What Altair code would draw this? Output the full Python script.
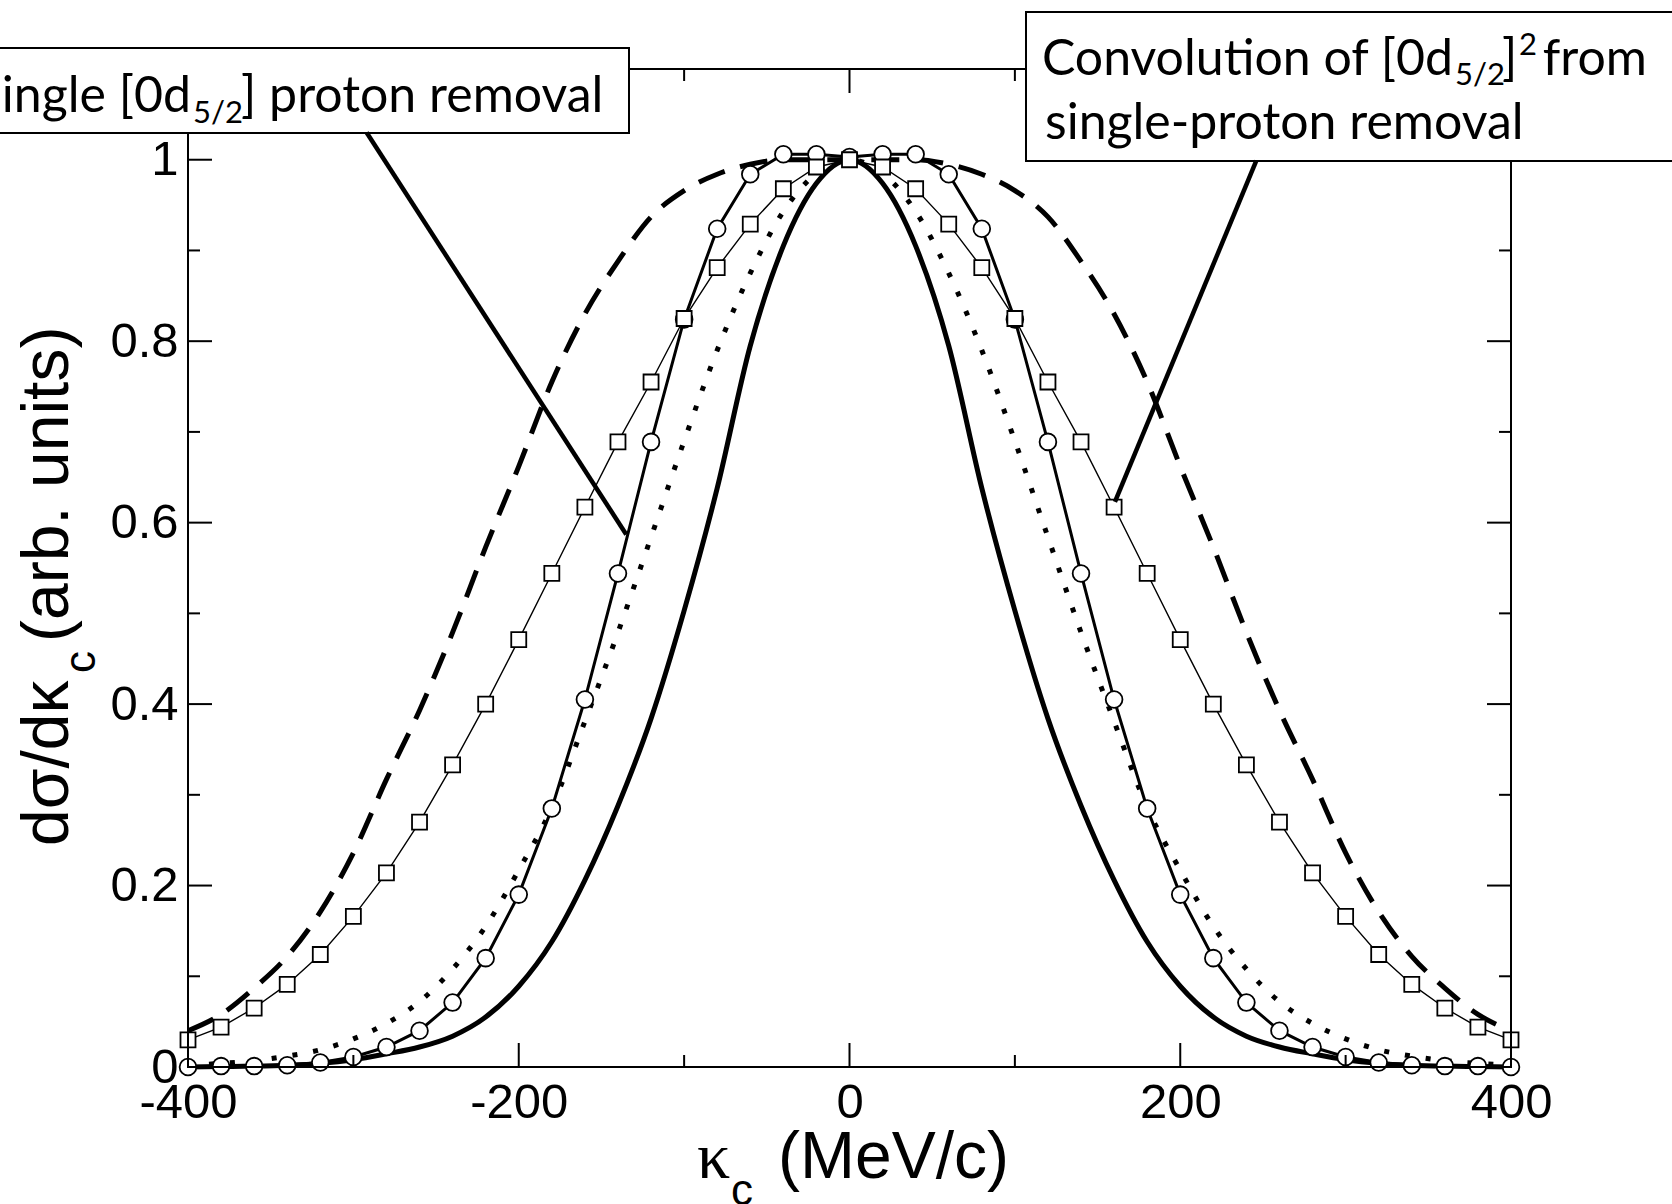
import altair as alt
import pandas as pd

# ---------------- data ----------------
kappa = list(range(-400, 401, 20))

dashed = [0.040, 0.058, 0.087, 0.122, 0.171, 0.236, 0.317, 0.393, 0.479, 0.573, 0.662,
          0.755, 0.830, 0.888, 0.937, 0.966, 0.984, 0.995, 1.000, 1.000, 1.000,
          1.000, 1.000, 0.995, 0.984, 0.966, 0.937, 0.888, 0.830, 0.755, 0.662,
          0.573, 0.479, 0.393, 0.317, 0.236, 0.171, 0.122, 0.087, 0.058, 0.040]
solid = [0.000, 0.0005, 0.001, 0.002, 0.004, 0.008, 0.0145, 0.022, 0.034, 0.055, 0.089,
         0.138, 0.206, 0.288, 0.384, 0.503, 0.638, 0.795, 0.905, 0.974, 1.000,
         0.974, 0.905, 0.795, 0.638, 0.503, 0.384, 0.288, 0.206, 0.138, 0.089,
         0.055, 0.034, 0.022, 0.0145, 0.008, 0.004, 0.002, 0.001, 0.0005, 0.000]
dotted = [0.002, 0.004, 0.007, 0.012, 0.019, 0.031, 0.048, 0.072, 0.108, 0.155, 0.217,
          0.286, 0.381, 0.479, 0.584, 0.690, 0.790, 0.875, 0.943, 0.985, 1.000,
          0.985, 0.943, 0.875, 0.790, 0.690, 0.584, 0.479, 0.381, 0.286, 0.217,
          0.155, 0.108, 0.072, 0.048, 0.031, 0.019, 0.012, 0.007, 0.004, 0.002]
circles = [0.000, 0.001, 0.001, 0.002, 0.005, 0.011, 0.022, 0.040, 0.071, 0.120, 0.190,
           0.285, 0.405, 0.544, 0.689, 0.824, 0.924, 0.984, 1.006, 1.006, 1.003,
           1.006, 1.006, 0.984, 0.924, 0.824, 0.689, 0.544, 0.405, 0.285, 0.190,
           0.120, 0.071, 0.040, 0.022, 0.011, 0.005, 0.002, 0.001, 0.001, 0.000]
squares = [0.030, 0.044, 0.065, 0.091, 0.124, 0.166, 0.214, 0.270, 0.333, 0.400, 0.471,
           0.544, 0.617, 0.689, 0.755, 0.825, 0.881, 0.929, 0.968, 0.992, 1.000,
           0.992, 0.968, 0.929, 0.881, 0.825, 0.755, 0.689, 0.617, 0.544, 0.471,
           0.400, 0.333, 0.270, 0.214, 0.166, 0.124, 0.091, 0.065, 0.044, 0.030]

x_labels = [-400, -200, 0, 200, 400]
x_minor = [-300, -100, 100, 300]
y_labels = [0, 0.2, 0.4, 0.6, 0.8, 1.0]
y_minor = [0.1, 0.3, 0.5, 0.7, 0.9]

# pointer lines (start -> end, data units)
ptr_k0 = [-292, 246]
ptr_v0 = [1.03, 0.999]
ptr_k1 = [-135, 160.5]
ptr_v1 = [0.587, 0.623]

box1_text = ["Single [0d", "5/2", "] proton removal"]
box2_line1 = ["Convolution of [0d", "5/2", "]", "2", "from"]
box2_line2 = "single-proton removal"
y_title = ["d\u03c3/d\u03ba", "c", "(arb. units)"]
x_title = ["\u03ba", "c", "(MeV/c)"]

# ---------------- layout ----------------
W, H = 1323, 998
PAD = {"left": 188, "top": 69, "right": 161, "bottom": 137}

names = ["dashed", "solid", "dotted", "circles", "squares"]
series = [dashed, solid, dotted, circles, squares]
df = pd.DataFrame({
    "kappa": kappa * len(series),
    "value": sum(series, []),
    "series": sum([[n] * len(kappa) for n in names], []),
})

x_axis = alt.Axis(values=x_labels, labelExpr="datum.value + ''", title=None,
                  ticks=False, tickSize=0, domain=False, grid=False,
                  labelFont="Liberation Sans", labelFontSize=49, labelColor="black",
                  labelPadding=50, labelBaseline="alphabetic", labelFlush=False,
                  labelOverlap=False)
y_axis = alt.Axis(values=y_labels,
                  labelExpr="datum.value == 0 ? '0' : (datum.value == 1 ? '1' : format(datum.value, '.1f'))",
                  title=None, ticks=False, tickSize=0, domain=False, grid=False,
                  labelFont="Liberation Sans", labelFontSize=49, labelColor="black",
                  labelPadding=10, labelBaseline="middle", labelFlush=False,
                  labelOverlap=False)

x_enc = alt.X("kappa:Q", scale=alt.Scale(domain=[-400, 400], nice=False, zero=False), axis=x_axis)
y_enc = alt.Y("value:Q", scale=alt.Scale(domain=[0, 1.1], nice=False, zero=False), axis=y_axis)

base = alt.Chart(df)


def sel(name):
    return base.transform_filter(alt.datum.series == name)


dashed_l = sel("dashed").mark_line(color="black", strokeWidth=5, strokeDash=[28, 16],
                                   interpolate="monotone").encode(x=x_enc, y=y_enc)
solid_l = sel("solid").mark_line(color="black", strokeWidth=5,
                                 interpolate="monotone").encode(x=x_enc, y=y_enc)
dotted_l = sel("dotted").mark_line(color="black", strokeWidth=5, strokeDash=[5, 16],
                                   strokeCap="butt", interpolate="monotone").encode(x=x_enc, y=y_enc)
circ_l = sel("circles").mark_line(color="black", strokeWidth=3).encode(x=x_enc, y=y_enc)
circ_p = sel("circles").mark_point(shape="circle", size=280, filled=True, fill="white",
                                   stroke="black", strokeWidth=1.8, opacity=1).encode(x=x_enc, y=y_enc)
sq_l = sel("squares").mark_line(color="black", strokeWidth=1.4).encode(x=x_enc, y=y_enc)
sq_p = sel("squares").mark_point(shape="square", size=225, filled=True, fill="white",
                                 stroke="black", strokeWidth=1.8, opacity=1).encode(x=x_enc, y=y_enc)

one = pd.DataFrame({"k": [0]})

frame = alt.Chart(one).mark_rect(fill="transparent", stroke="black", strokeWidth=2).encode(
    x=alt.value(0), x2=alt.value(W), y=alt.value(0), y2=alt.value(H))

MAJ, MIN = 24, 12


def xticks(vals, length):
    d = pd.DataFrame({"kappa": vals})
    bot = alt.Chart(d).mark_rule(color="black", strokeWidth=2).encode(
        x=x_enc, y=alt.value(H), y2=alt.value(H - length))
    top = alt.Chart(d).mark_rule(color="black", strokeWidth=2).encode(
        x=x_enc, y=alt.value(0), y2=alt.value(length))
    return [bot, top]


def yticks(vals, length):
    d = pd.DataFrame({"value": vals})
    left = alt.Chart(d).mark_rule(color="black", strokeWidth=2).encode(
        y=y_enc, x=alt.value(0), x2=alt.value(length))
    right = alt.Chart(d).mark_rule(color="black", strokeWidth=2).encode(
        y=y_enc, x=alt.value(W), x2=alt.value(W - length))
    return [left, right]


ticks = xticks(x_labels, MAJ) + xticks(x_minor, MIN) + yticks(y_labels, MAJ) + yticks(y_minor, MIN)

box1 = alt.Chart(one).mark_rect(fill="white", stroke="black", strokeWidth=2).encode(
    x=alt.value(-250), x2=alt.value(441), y=alt.value(-21), y2=alt.value(64))
box2 = alt.Chart(one).mark_rect(fill="white", stroke="black", strokeWidth=2).encode(
    x=alt.value(838), x2=alt.value(1600), y=alt.value(-57), y2=alt.value(92))

ptr_df = pd.DataFrame({"kappa": ptr_k0, "value": ptr_v0, "kappa2": ptr_k1, "value2": ptr_v1})
pointers = alt.Chart(ptr_df).mark_rule(color="black", strokeWidth=4.5).encode(
    x=x_enc, y=y_enc, x2="kappa2:Q", y2="value2:Q")


def txt(s, x, y, size, font="Lato", align="left", angle=None):
    kw = dict(text=s, font=font, fontSize=size, align=align, baseline="alphabetic", color="black")
    if angle is not None:
        kw["angle"] = angle
    return alt.Chart(one).mark_text(**kw).encode(x=alt.value(x), y=alt.value(y))


BF, SF = 50, 31
texts = [
    # box 1
    txt(box1_text[0], 3, 43, BF, align="right"),
    txt(box1_text[1], 5, 54, SF),
    txt(box1_text[2], 53, 43, BF),
    # box 2
    txt(box2_line1[0], 1265, 6, BF, align="right"),
    txt(box2_line1[1], 1267, 16, SF),
    txt(box2_line1[2], 1314, 6, BF),
    txt(box2_line1[3], 1331, -14, SF),
    txt(box2_line1[4], 1459, 6, BF, align="right"),
    txt(box2_line2, 857, 70, BF),
    # y title (rotated)
    txt(y_title[0], -120, 777, 66, font="Liberation Sans", angle=270),
    txt(y_title[1], -93, 604, 44, font="Liberation Sans", angle=270),
    txt(y_title[2], -120, 573, 66, font="Liberation Sans", angle=270),
    # x title
    txt(x_title[0], 509, 1109, 66, font="Liberation Serif"),
    txt(x_title[1], 543, 1136, 44, font="Liberation Sans"),
    txt(x_title[2], 590, 1109, 66, font="Liberation Sans"),
]

chart = alt.layer(
    dashed_l, solid_l, dotted_l, circ_l, circ_p, sq_l, sq_p,
    frame, *ticks, box1, box2, pointers, *texts
).properties(
    width=W, height=H, padding=PAD,
    autosize=alt.AutoSizeParams(type="none"), background="white"
).configure_view(strokeWidth=0)

chart.save("out.html", embed_options={"renderer": "svg", "actions": False})
